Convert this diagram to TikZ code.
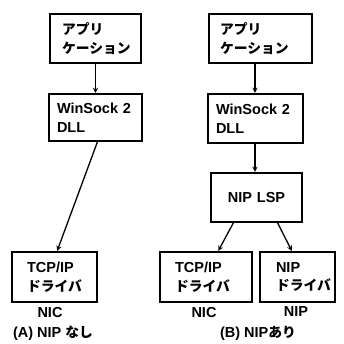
\documentclass[tikz,border=0pt]{standalone}
\usepackage{fontspec}
\setmainfont{Liberation Sans}
\newfontfamily\jp[Scale=0.95]{Noto Sans CJK JP}
\usepackage{tikz}
\usetikzlibrary{arrows,positioning}

\begin{document}
\begin{tikzpicture}[x=1pt,y=-1pt,
  box/.style={draw, rectangle, line width=1.3pt, inner ysep=0pt, align=left,
    font=\fontsize{14.5}{18.5}\selectfont\bfseries},
  lbl/.style={font=\fontsize{14.5}{18}\selectfont\bfseries, inner sep=0pt},
  arr/.style={-stealth, line width=1.3pt, shorten >=0.5pt}]
\useasboundingbox (0,0) rectangle (344,343);
% Define nodes: (A) without NIP
\node[box, inner xsep=12pt, text width=67pt, minimum height=49pt] (appA) at (95.5,38.5) {{\jp アプリ}\\{\jp ケーション}};
\node[box, inner xsep=8pt, text width=77pt, minimum height=47pt] (wsA) at (95.5,117.5) {WinSock 2\\DLL};
\node[box, inner xsep=15pt, text width=55pt, minimum height=50pt] (tcpA) at (54.5,277) {TCP/IP\\{\jp ドライバ}};
\node[lbl] (nicA) at (50,312) {NIC};
\node[lbl] (capA) at (53,333) {(A) NIP {\jp なし}};

% Define nodes: (B) with NIP
\node[box, inner xsep=11pt, text width=81pt, minimum height=49pt] (appB) at (260.5,38.5) {{\jp アプリ}\\{\jp ケーション}};
\node[box, inner xsep=8pt, text width=79pt, minimum height=49pt] (wsB) at (255.5,118.5) {WinSock 2\\DLL};
\node[box, align=center, text width=75pt, inner xsep=8pt, minimum height=49pt] (lspB) at (256.5,197.5) {NIP LSP};
\node[box, inner xsep=15pt, text width=62pt, minimum height=50pt] (tcpB) at (206,277) {TCP/IP\\{\jp ドライバ}};
\node[box, inner xsep=16pt, text width=43pt, minimum height=50pt] (nipB) at (297.5,277) {NIP\\{\jp ドライバ}};
\node[lbl] (nicB) at (204,312) {NIC};
\node[lbl] (nipcB) at (296,312) {NIP};
\node[lbl] (capB) at (258,333) {(B) NIP{\jp あり}};

% Draw arrows
\draw[arr] (appA) -- (wsA);
\draw[arr] ([xshift=2pt]wsA.south) -- ([xshift=2.5pt]tcpA.north);
\draw[arr] ([xshift=-5.5pt]appB.south) -- ([xshift=-0.5pt]wsB.north);
\draw[arr] ([xshift=-0.5pt]wsB.south) -- ([xshift=-1.5pt]lspB.north);
\draw[arr] ([xshift=-23pt]lspB.south) -- ([xshift=12pt]tcpB.north);
\draw[arr] ([xshift=21pt]lspB.south) -- ([xshift=-5.5pt]nipB.north);
\end{tikzpicture}
\end{document}
